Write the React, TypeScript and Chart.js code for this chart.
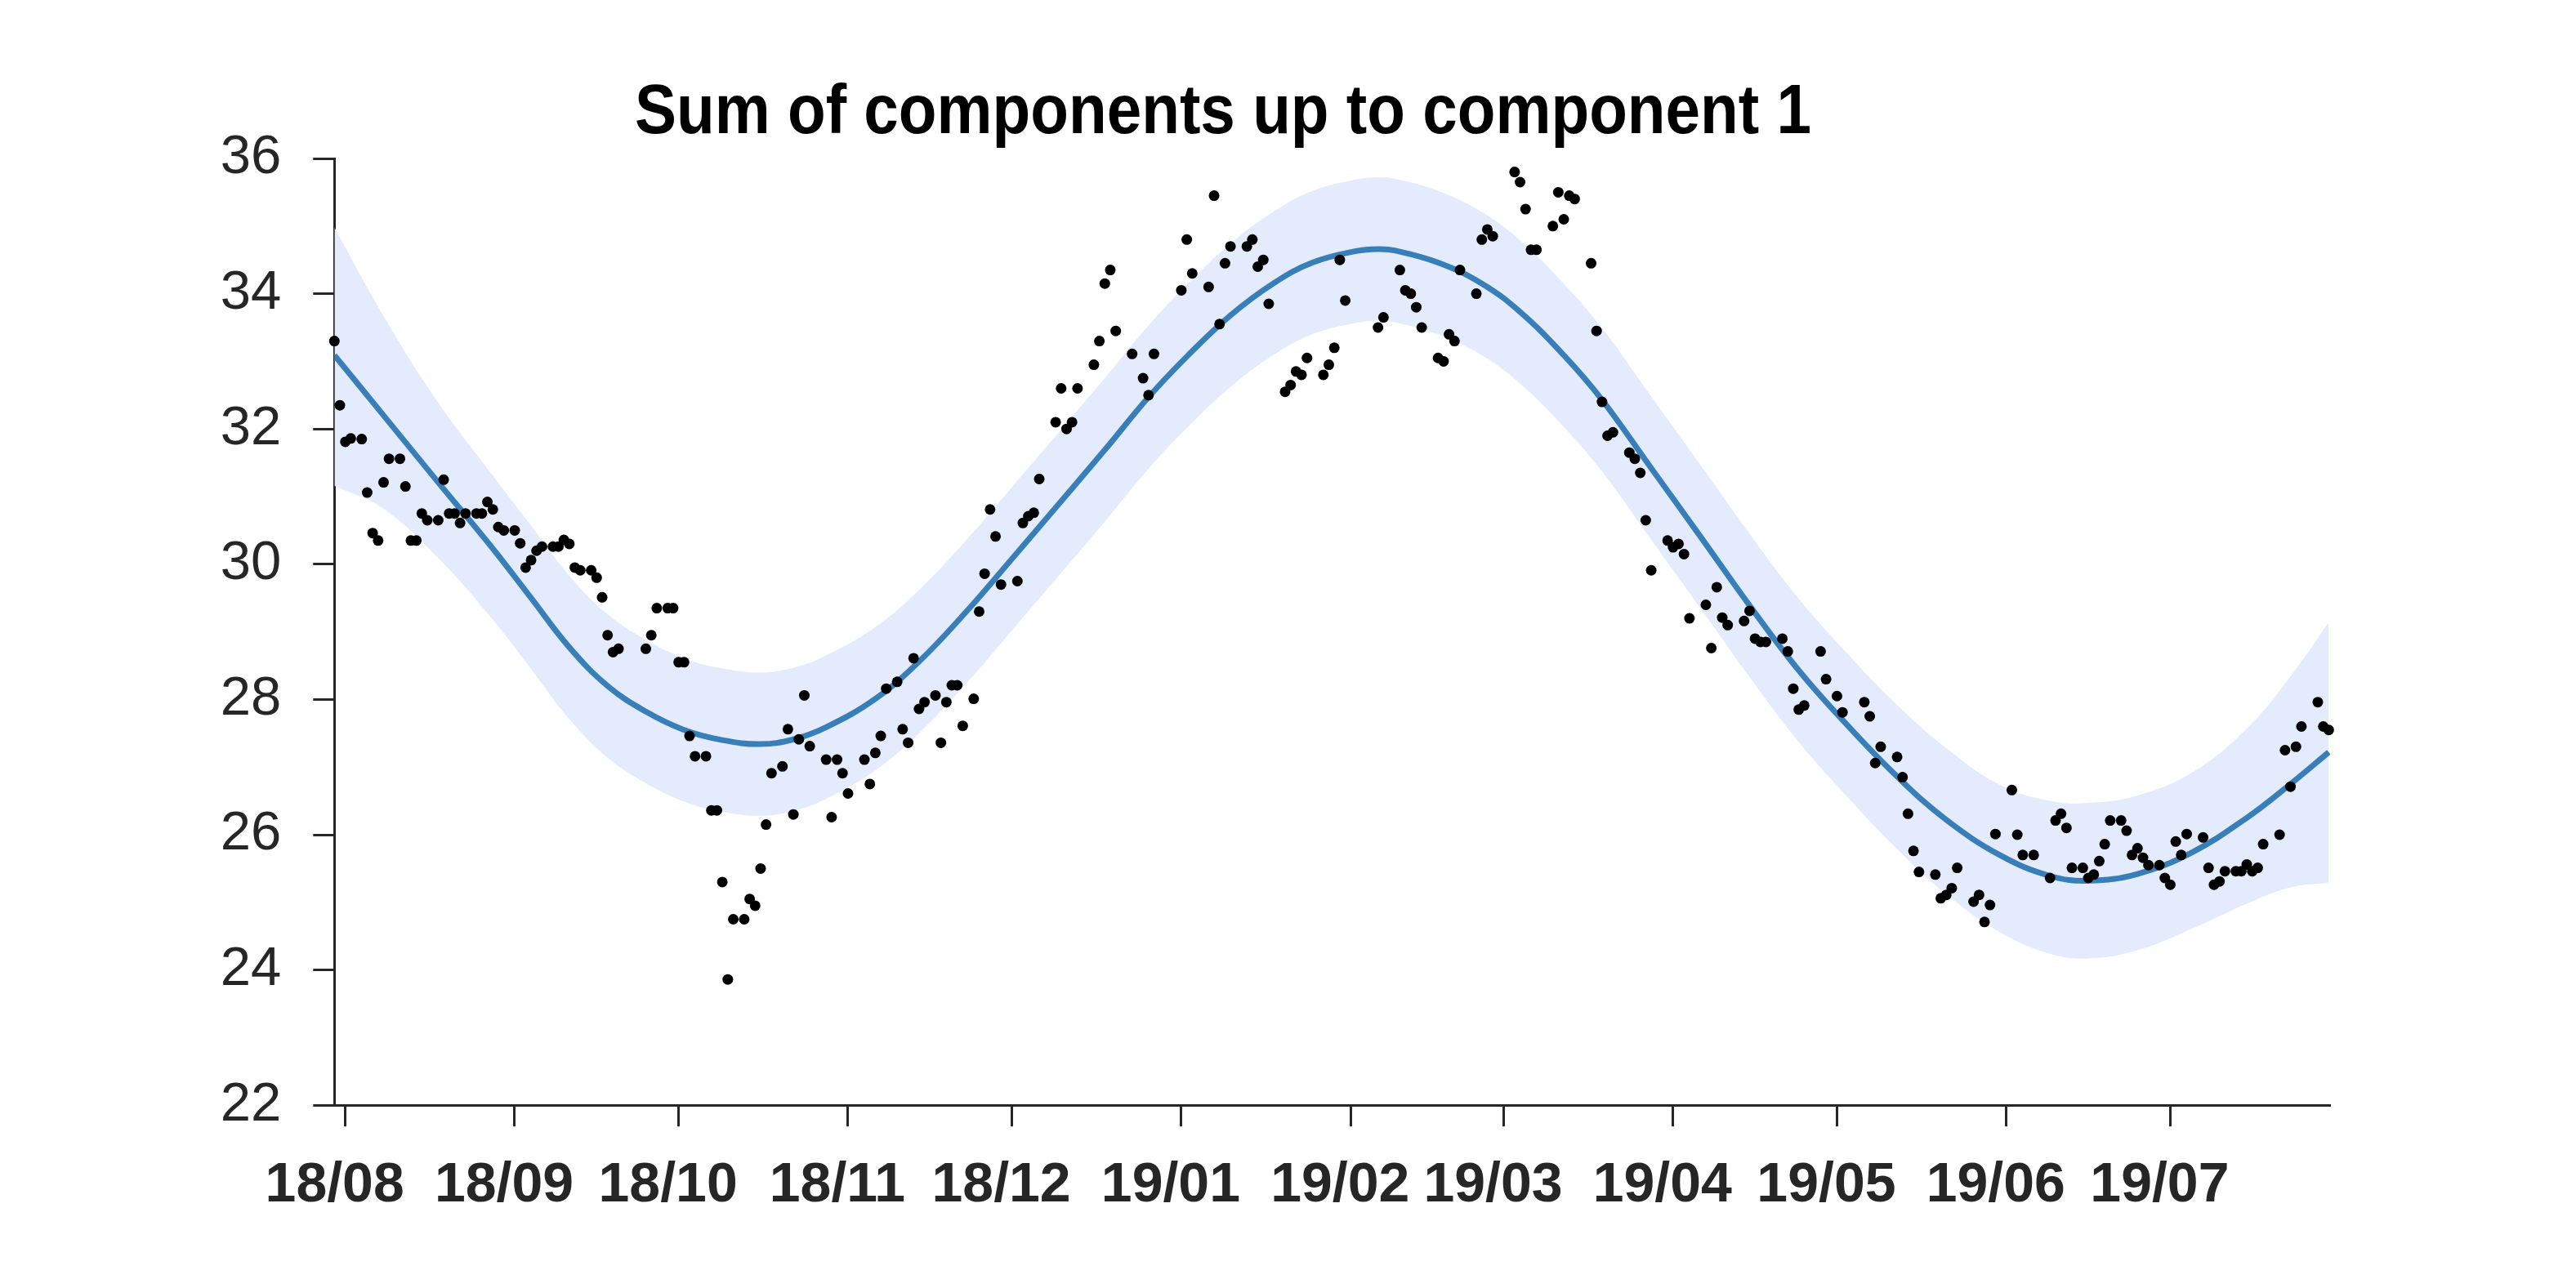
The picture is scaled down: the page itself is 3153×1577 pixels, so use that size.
import React, { useEffect, useRef } from "react";
import { Chart, registerables } from "chart.js";

Chart.register(...registerables);

// ---------------- text ----------------
const TITLE = "Sum of components up to component 1";

// ---------------- axes ----------------
const BASE_DATE = "2018-07-30";
const X_MIN_DATE = "2018-07-30";
const X_MAX_DATE = "2019-07-30";
const Y_MIN = 22;
const Y_MAX = 36;
const Y_STEP = 2;

const tickDates = [
  "2018-08-01", "2018-09-01", "2018-10-01", "2018-11-01", "2018-12-01", "2019-01-01",
  "2019-02-01", "2019-03-01", "2019-04-01", "2019-05-01", "2019-06-01", "2019-07-01",
];
const tickLabels = [
  "18/08", "18/09", "18/10", "18/11", "18/12", "19/01",
  "19/02", "19/03", "19/04", "19/05", "19/06", "19/07",
];

// ---------------- observed points ----------------
const scatterDates = [
  "2018-07-30", "2018-07-31", "2018-08-01", "2018-08-02", "2018-08-04", "2018-08-05", "2018-08-06", "2018-08-07",
  "2018-08-08", "2018-08-09", "2018-08-11", "2018-08-12", "2018-08-13", "2018-08-14", "2018-08-15", "2018-08-16",
  "2018-08-18", "2018-08-19", "2018-08-20", "2018-08-21", "2018-08-22", "2018-08-23", "2018-08-25", "2018-08-26",
  "2018-08-27", "2018-08-28", "2018-08-29", "2018-08-30", "2018-09-01", "2018-09-02", "2018-09-03", "2018-09-04",
  "2018-09-05", "2018-09-06", "2018-09-08", "2018-09-09", "2018-09-10", "2018-09-11", "2018-09-12", "2018-09-13",
  "2018-09-15", "2018-09-16", "2018-09-17", "2018-09-18", "2018-09-19", "2018-09-20", "2018-09-25", "2018-09-26",
  "2018-09-27", "2018-09-29", "2018-09-30", "2018-10-01", "2018-10-02", "2018-10-03", "2018-10-04", "2018-10-06",
  "2018-10-07", "2018-10-08", "2018-10-09", "2018-10-10", "2018-10-11", "2018-10-13", "2018-10-14", "2018-10-15",
  "2018-10-16", "2018-10-17", "2018-10-18", "2018-10-20", "2018-10-21", "2018-10-22", "2018-10-23", "2018-10-24",
  "2018-10-25", "2018-10-28", "2018-10-29", "2018-10-30", "2018-10-31", "2018-11-01", "2018-11-04", "2018-11-05",
  "2018-11-06", "2018-11-07", "2018-11-08", "2018-11-10", "2018-11-11", "2018-11-12", "2018-11-13", "2018-11-14",
  "2018-11-15", "2018-11-17", "2018-11-18", "2018-11-19", "2018-11-20", "2018-11-21", "2018-11-22", "2018-11-24",
  "2018-11-25", "2018-11-26", "2018-11-27", "2018-11-28", "2018-11-29", "2018-12-02", "2018-12-03", "2018-12-04",
  "2018-12-05", "2018-12-06", "2018-12-09", "2018-12-10", "2018-12-11", "2018-12-12", "2018-12-13", "2018-12-16",
  "2018-12-17", "2018-12-18", "2018-12-19", "2018-12-20", "2018-12-23", "2018-12-25", "2018-12-26", "2018-12-27",
  "2019-01-01", "2019-01-02", "2019-01-03", "2019-01-06", "2019-01-07", "2019-01-08", "2019-01-09", "2019-01-10",
  "2019-01-13", "2019-01-14", "2019-01-15", "2019-01-16", "2019-01-17", "2019-01-20", "2019-01-21", "2019-01-22",
  "2019-01-23", "2019-01-24", "2019-01-27", "2019-01-28", "2019-01-29", "2019-01-30", "2019-01-31", "2019-02-06",
  "2019-02-07", "2019-02-10", "2019-02-11", "2019-02-12", "2019-02-13", "2019-02-14", "2019-02-17", "2019-02-18",
  "2019-02-19", "2019-02-20", "2019-02-21", "2019-02-24", "2019-02-25", "2019-02-26", "2019-02-27", "2019-03-03",
  "2019-03-04", "2019-03-05", "2019-03-06", "2019-03-07", "2019-03-10", "2019-03-11", "2019-03-12", "2019-03-13",
  "2019-03-14", "2019-03-17", "2019-03-18", "2019-03-19", "2019-03-20", "2019-03-21", "2019-03-24", "2019-03-25",
  "2019-03-26", "2019-03-27", "2019-03-28", "2019-03-31", "2019-04-01", "2019-04-02", "2019-04-03", "2019-04-04",
  "2019-04-07", "2019-04-08", "2019-04-09", "2019-04-10", "2019-04-11", "2019-04-14", "2019-04-15", "2019-04-16",
  "2019-04-17", "2019-04-18", "2019-04-21", "2019-04-22", "2019-04-23", "2019-04-24", "2019-04-25", "2019-04-28",
  "2019-04-29", "2019-05-01", "2019-05-02", "2019-05-06", "2019-05-07", "2019-05-08", "2019-05-09", "2019-05-12",
  "2019-05-13", "2019-05-14", "2019-05-15", "2019-05-16", "2019-05-19", "2019-05-20", "2019-05-21", "2019-05-22",
  "2019-05-23", "2019-05-26", "2019-05-27", "2019-05-28", "2019-05-29", "2019-05-30", "2019-06-02", "2019-06-03",
  "2019-06-04", "2019-06-06", "2019-06-09", "2019-06-10", "2019-06-11", "2019-06-12", "2019-06-13", "2019-06-15",
  "2019-06-16", "2019-06-17", "2019-06-18", "2019-06-19", "2019-06-20", "2019-06-22", "2019-06-23", "2019-06-24",
  "2019-06-25", "2019-06-26", "2019-06-27", "2019-06-29", "2019-06-30", "2019-07-01", "2019-07-02", "2019-07-03",
  "2019-07-04", "2019-07-07", "2019-07-08", "2019-07-09", "2019-07-10", "2019-07-11", "2019-07-13", "2019-07-14",
  "2019-07-15", "2019-07-16", "2019-07-17", "2019-07-18", "2019-07-21", "2019-07-22", "2019-07-23", "2019-07-24",
  "2019-07-25", "2019-07-28", "2019-07-29", "2019-07-30",
];
const scatterValues = [
  33.30, 32.35, 31.81, 31.86, 31.85, 31.06, 30.46, 30.35,
  31.21, 31.56, 31.56, 31.15, 30.35, 30.35, 30.75, 30.65,
  30.65, 31.25, 30.75, 30.75, 30.61, 30.75, 30.75, 30.75,
  30.92, 30.81, 30.55, 30.50, 30.50, 30.31, 29.95, 30.06,
  30.20, 30.26, 30.26, 30.26, 30.36, 30.30, 29.95, 29.91,
  29.91, 29.80, 29.51, 28.95, 28.70, 28.75, 28.75, 28.95,
  29.35, 29.35, 29.35, 28.55, 28.55, 27.46, 27.16, 27.16,
  26.36, 26.36, 25.30, 23.86, 24.75, 24.75, 25.05, 24.95,
  25.50, 26.15, 26.91, 27.01, 27.56, 26.30, 27.41, 28.06,
  27.31, 27.11, 26.26, 27.11, 26.91, 26.61, 27.11, 26.75,
  27.21, 27.46, 28.16, 28.26, 27.56, 27.36, 28.61, 27.86,
  27.96, 28.06, 27.36, 27.96, 28.21, 28.21, 27.61, 28.01,
  29.30, 29.86, 30.81, 30.41, 29.70, 29.75, 30.61, 30.71,
  30.76, 31.26, 32.10, 32.60, 32.00, 32.10, 32.60, 32.95,
  33.30, 34.15, 34.35, 33.45, 33.11, 32.75, 32.50, 33.11,
  34.05, 34.80, 34.30, 34.10, 35.45, 33.55, 34.45, 34.70,
  34.70, 34.80, 34.40, 34.50, 33.85, 32.55, 32.65, 32.85,
  32.80, 33.05, 32.80, 32.95, 33.20, 34.50, 33.90, 33.50,
  33.65, 34.35, 34.05, 34.00, 33.80, 33.50, 33.05, 33.00,
  33.40, 33.30, 34.35, 34.00, 34.80, 34.95, 34.85, 35.80,
  35.65, 35.25, 34.65, 34.65, 35.00, 35.50, 35.10, 35.45,
  35.40, 34.45, 33.45, 32.40, 31.90, 31.95, 31.65, 31.56,
  31.35, 30.65, 29.91, 30.35, 30.25, 30.30, 30.15, 29.20,
  29.40, 28.76, 29.66, 29.21, 29.10, 29.16, 29.31, 28.90,
  28.85, 28.85, 28.90, 28.71, 28.16, 27.85, 27.91, 28.71,
  28.30, 28.05, 27.81, 27.96, 27.75, 27.06, 27.30, 27.15,
  26.85, 26.31, 25.76, 25.45, 25.41, 25.06, 25.11, 25.21,
  25.51, 25.01, 25.11, 24.71, 24.96, 26.01, 26.66, 26.00,
  25.70, 25.70, 25.36, 26.21, 26.31, 26.10, 25.51, 25.51,
  25.36, 25.41, 25.61, 25.86, 26.21, 26.21, 26.06, 25.70,
  25.80, 25.66, 25.55, 25.55, 25.36, 25.26, 25.90, 25.70,
  26.01, 25.96, 25.51, 25.26, 25.31, 25.46, 25.46, 25.46,
  25.56, 25.46, 25.51, 25.86, 26.00, 27.25, 26.71, 27.30,
  27.60, 27.96, 27.60, 27.55,
];

// ---------------- fitted component and its band ----------------
const fitDates = [
  "2018-07-30", "2018-08-08", "2018-08-18", "2018-08-28", "2018-09-04", "2018-09-11", "2018-09-18", "2018-09-25",
  "2018-10-02", "2018-10-09", "2018-10-16", "2018-10-22", "2018-10-28", "2018-11-06", "2018-11-14", "2018-11-23",
  "2018-12-01", "2018-12-10", "2018-12-18", "2018-12-26", "2019-01-02", "2019-01-10", "2019-01-18", "2019-01-25",
  "2019-02-02", "2019-02-06", "2019-02-09", "2019-02-17", "2019-02-25", "2019-03-04", "2019-03-12", "2019-03-19",
  "2019-03-28", "2019-04-06", "2019-04-15", "2019-04-24", "2019-05-03", "2019-05-12", "2019-05-21", "2019-05-31",
  "2019-06-09", "2019-06-16", "2019-06-25", "2019-07-05", "2019-07-15", "2019-07-23", "2019-07-30",
];
const fitValues = [
  33.09, 32.20, 31.21, 30.23, 29.50, 28.77, 28.20, 27.82,
  27.55, 27.40, 27.34, 27.41, 27.59, 28.01, 28.56, 29.33,
  30.08, 30.93, 31.69, 32.47, 33.07, 33.68, 34.16, 34.46,
  34.63, 34.66, 34.64, 34.46, 34.15, 33.73, 33.09, 32.43,
  31.42, 30.41, 29.39, 28.43, 27.61, 26.86, 26.22, 25.69,
  25.39, 25.32, 25.42, 25.74, 26.25, 26.75, 27.22,
];
const bandUpper = [
  34.98, 33.67, 32.39, 31.31, 30.57, 29.83, 29.26, 28.88,
  28.61, 28.46, 28.40, 28.47, 28.65, 29.07, 29.62, 30.39,
  31.14, 31.99, 32.75, 33.53, 34.13, 34.74, 35.22, 35.52,
  35.69, 35.72, 35.70, 35.52, 35.21, 34.79, 34.15, 33.49,
  32.48, 31.47, 30.45, 29.49, 28.67, 27.92, 27.28, 26.73,
  26.50, 26.47, 26.58, 26.92, 27.57, 28.34, 29.14,
];
const bandLower = [
  31.16, 30.82, 30.09, 29.18, 28.45, 27.71, 27.14, 26.76,
  26.49, 26.34, 26.28, 26.35, 26.53, 26.95, 27.50, 28.27,
  29.02, 29.87, 30.63, 31.41, 32.01, 32.62, 33.10, 33.40,
  33.57, 33.60, 33.58, 33.40, 33.09, 32.67, 32.03, 31.37,
  30.36, 29.35, 28.33, 27.37, 26.55, 25.79, 25.12, 24.55,
  24.24, 24.17, 24.29, 24.61, 24.98, 25.22, 25.29,
];

// ---------------- styles ----------------
const FONT_FAMILY = '"Liberation Sans", Arial, Helvetica, sans-serif';
const AXIS_COLOR = "#262626";
const LINE_COLOR = "rgb(56,126,185)";
const BAND_COLOR = "rgb(227,235,253)";
const POINT_COLOR = "#000000";

const CANVAS_W = 3153;
const CANVAS_H = 1577;

const dayOf = (s: string) =>
  (Date.parse(s + "T00:00:00Z") - Date.parse(BASE_DATE + "T00:00:00Z")) / 86400000;

const titlePlugin = {
  id: "figureTitle",
  afterDraw(chart: any) {
    const ctx = chart.ctx as CanvasRenderingContext2D;
    ctx.save();
    ctx.font = `bold 86px ${FONT_FAMILY}`;
    ctx.fillStyle = "#000000";
    ctx.textBaseline = "alphabetic";
    ctx.textAlign = "center";
    const natural = ctx.measureText(TITLE).width;
    const targetWidth = 1440;
    ctx.translate(1497, 163);
    ctx.scale(targetWidth / natural, 1);
    ctx.fillText(TITLE, 0, 0);
    ctx.restore();
  },
};

export default function App() {
  const canvasRef = useRef<HTMLCanvasElement | null>(null);

  useEffect(() => {
    const canvas = canvasRef.current;
    if (!canvas) return;
    Chart.defaults.font.family = FONT_FAMILY;

    const scatterData = scatterDates.map((d, i) => ({ x: dayOf(d), y: scatterValues[i] }));
    const fitData = fitDates.map((d, i) => ({ x: dayOf(d), y: fitValues[i] }));
    const upperData = fitDates.map((d, i) => ({ x: dayOf(d), y: bandUpper[i] }));
    const lowerData = fitDates.map((d, i) => ({ x: dayOf(d), y: bandLower[i] }));
    const tickDays = tickDates.map(dayOf);

    const chart = new Chart(canvas, {
      type: "line",
      data: {
        datasets: [
          {
            label: "observations",
            data: scatterData,
            showLine: false,
            pointRadius: 6.5,
            pointBackgroundColor: POINT_COLOR,
            pointBorderColor: POINT_COLOR,
            pointBorderWidth: 0,
            borderColor: "rgba(0,0,0,0)",
            clip: false,
          } as any,
          {
            label: "component sum",
            data: fitData,
            borderColor: LINE_COLOR,
            borderWidth: 7,
            pointRadius: 0,
            tension: 0.4,
            fill: false,
          },
          {
            label: "upper",
            data: upperData,
            borderColor: "rgba(0,0,0,0)",
            borderWidth: 1,
            pointRadius: 0,
            tension: 0.4,
            backgroundColor: BAND_COLOR,
            fill: "+1",
          },
          {
            label: "lower",
            data: lowerData,
            borderColor: "rgba(0,0,0,0)",
            borderWidth: 1,
            pointRadius: 0,
            tension: 0.4,
            fill: false,
          },
        ],
      },
      options: {
        animation: false,
        responsive: false,
        devicePixelRatio: 1,
        events: [],
        layout: { padding: { top: 194, right: 300.3, left: 0, bottom: 0 } },
        plugins: {
          legend: { display: false },
          tooltip: { enabled: false },
          title: { display: false },
        },
        scales: {
          x: {
            type: "linear",
            position: "bottom",
            min: dayOf(X_MIN_DATE),
            max: dayOf(X_MAX_DATE) + 0.35,
            afterBuildTicks: (scale: any) => {
              scale.ticks = tickDays.map((v) => ({ value: v }));
            },
            afterFit: (scale: any) => {
              scale.height = CANVAS_H - 1353.2;
            },
            grid: {
              display: true,
              drawOnChartArea: false,
              drawTicks: true,
              tickLength: 26,
              tickWidth: 3,
              tickColor: AXIS_COLOR,
            },
            border: { display: true, color: AXIS_COLOR, width: 3 },
            ticks: {
              autoSkip: false,
              maxRotation: 0,
              minRotation: 0,
              padding: 32,
              labelOffset: -13,
              color: AXIS_COLOR,
              font: { family: FONT_FAMILY, size: 68, weight: "bold" },
              callback: (value: any) => {
                const idx = tickDays.findIndex((d) => Math.abs(d - Number(value)) < 0.01);
                return idx >= 0 ? tickLabels[idx] : "";
              },
            },
          },
          y: {
            type: "linear",
            min: Y_MIN,
            max: Y_MAX,
            afterFit: (scale: any) => {
              scale.width = 409.3;
            },
            grid: {
              display: true,
              drawOnChartArea: false,
              drawTicks: true,
              tickLength: 26,
              tickWidth: 3,
              tickColor: AXIS_COLOR,
            },
            border: { display: true, color: AXIS_COLOR, width: 3 },
            ticks: {
              stepSize: Y_STEP,
              padding: 39,
              color: AXIS_COLOR,
              font: { family: FONT_FAMILY, size: 67 },
            },
          },
        },
      },
      plugins: [titlePlugin],
    });

    return () => {
      chart.destroy();
    };
  }, []);

  return (
    <div style={{ position: "absolute", left: 0, top: 0, width: CANVAS_W, height: CANVAS_H, background: "#ffffff" }}>
      <canvas
        ref={canvasRef}
        width={CANVAS_W}
        height={CANVAS_H}
        style={{ display: "block", width: CANVAS_W, height: CANVAS_H }}
      />
    </div>
  );
}
